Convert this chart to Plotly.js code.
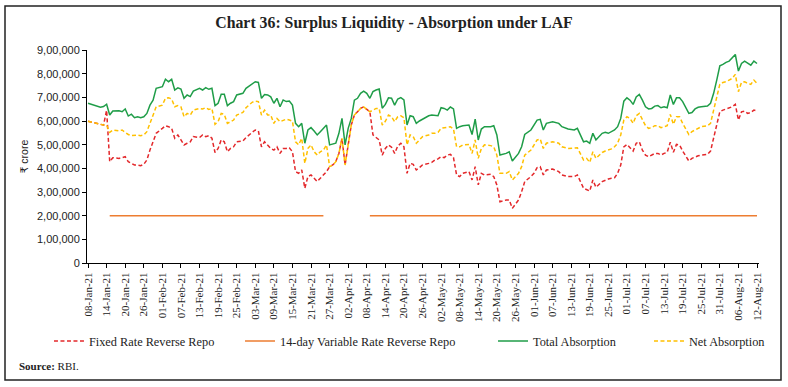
<!DOCTYPE html>
<html>
<head>
<meta charset="utf-8">
<script src="https://cdn.plot.ly/plotly-3.0.1.min.js"></script>
<style>
  html, body { margin: 0; padding: 0; background: #fff; }
  #chart { width: 788px; height: 387px; }
</style>
</head>
<body>
<div id="chart"></div>
<script>
// Dates of observations
const dates = [
  '2021-01-08','2021-01-10','2021-01-12','2021-01-13','2021-01-14','2021-01-15','2021-01-16','2021-01-18','2021-01-19','2021-01-20',
  '2021-01-21','2021-01-22','2021-01-23','2021-01-24','2021-01-25','2021-01-26','2021-01-27','2021-01-28','2021-01-29','2021-01-30',
  '2021-02-01','2021-02-02','2021-02-03','2021-02-04','2021-02-05','2021-02-06','2021-02-07','2021-02-08','2021-02-09','2021-02-10',
  '2021-02-11','2021-02-13','2021-02-14','2021-02-15','2021-02-16','2021-02-17','2021-02-18','2021-02-19','2021-02-20','2021-02-21',
  '2021-02-22','2021-02-23','2021-02-24','2021-02-25','2021-02-27','2021-02-28',
  '2021-03-02','2021-03-03','2021-03-04','2021-03-05','2021-03-06','2021-03-07','2021-03-08','2021-03-09','2021-03-10','2021-03-11',
  '2021-03-12','2021-03-13','2021-03-14','2021-03-15','2021-03-16','2021-03-17','2021-03-18','2021-03-19','2021-03-20','2021-03-21',
  '2021-03-22','2021-03-23','2021-03-24','2021-03-25','2021-03-26','2021-03-27','2021-03-28','2021-03-29','2021-03-30','2021-03-31',
  '2021-04-01','2021-04-02','2021-04-03','2021-04-04','2021-04-05','2021-04-06','2021-04-07','2021-04-08','2021-04-09','2021-04-10',
  '2021-04-11','2021-04-12','2021-04-13','2021-04-14','2021-04-15','2021-04-16','2021-04-17','2021-04-18','2021-04-19','2021-04-20',
  '2021-04-21','2021-04-22','2021-04-23','2021-04-24','2021-04-25','2021-04-26','2021-04-28','2021-04-29','2021-04-30',
  '2021-05-01','2021-05-02','2021-05-03','2021-05-04','2021-05-05','2021-05-06','2021-05-07','2021-05-08','2021-05-09','2021-05-11',
  '2021-05-12','2021-05-13','2021-05-14','2021-05-15','2021-05-16','2021-05-18','2021-05-19','2021-05-20','2021-05-21','2021-05-23',
  '2021-05-24','2021-05-25','2021-05-27','2021-05-28','2021-05-29','2021-05-31',
  '2021-06-01','2021-06-02','2021-06-03','2021-06-04','2021-06-05','2021-06-07','2021-06-09','2021-06-10','2021-06-12','2021-06-14',
  '2021-06-15','2021-06-17','2021-06-18','2021-06-19','2021-06-20','2021-06-21','2021-06-23','2021-06-24','2021-06-25','2021-06-26',
  '2021-06-27','2021-06-28','2021-06-29','2021-06-30',
  '2021-07-01','2021-07-02','2021-07-03','2021-07-04','2021-07-05','2021-07-06','2021-07-07','2021-07-08','2021-07-09','2021-07-10',
  '2021-07-11','2021-07-12','2021-07-13','2021-07-14','2021-07-15','2021-07-16','2021-07-17','2021-07-18','2021-07-19','2021-07-21',
  '2021-07-22','2021-07-23','2021-07-24','2021-07-25','2021-07-27','2021-07-28','2021-07-29','2021-07-30','2021-07-31',
  '2021-08-01','2021-08-02','2021-08-03','2021-08-04','2021-08-05','2021-08-06','2021-08-07','2021-08-08','2021-08-09','2021-08-10',
  '2021-08-11','2021-08-12'
];

// Total Absorption (₹ crore)
const totalAbsorption = [
  675000,668000,658000,661000,671000,625000,642000,643000,639000,651000,
  621000,629000,614000,618000,614000,618000,632000,667000,688000,738000,
  745000,777000,766000,776000,731000,740000,735000,696000,710000,703000,
  726000,738000,731000,741000,734000,738000,665000,675000,713000,713000,
  665000,675000,682000,710000,717000,738000,
  759000,766000,763000,696000,712000,710000,702000,675000,696000,660000,
  689000,682000,684000,667000,590000,576000,590000,506000,562000,572000,
  558000,541000,555000,569000,583000,499000,501000,506000,548000,611000,
  499000,569000,611000,688000,696000,717000,726000,717000,696000,724000,
  731000,735000,654000,670000,698000,696000,667000,693000,699000,689000,
  583000,622000,618000,590000,600000,608000,622000,625000,625000,
  622000,656000,653000,646000,659000,651000,569000,576000,580000,583000,
  543000,608000,520000,566000,576000,576000,580000,541000,456000,463000,
  470000,431000,463000,491000,543000,562000,
  586000,604000,607000,562000,590000,597000,590000,576000,566000,562000,
  569000,512000,515000,506000,548000,520000,548000,552000,548000,555000,
  562000,576000,611000,684000,
  698000,688000,670000,702000,712000,688000,660000,651000,653000,663000,
  665000,656000,660000,656000,710000,670000,698000,698000,682000,632000,
  636000,651000,658000,660000,663000,675000,717000,773000,833000,
  839000,848000,853000,867000,881000,811000,843000,853000,843000,836000,
  853000,843000
];

// Net Absorption (₹ crore)
const netAbsorption = [
  599000,594000,586000,583000,583000,552000,562000,558000,562000,552000,
  543000,538000,541000,541000,538000,541000,555000,590000,632000,660000,
  667000,696000,698000,693000,660000,665000,660000,618000,632000,625000,
  646000,653000,651000,656000,649000,653000,586000,597000,632000,628000,
  590000,597000,604000,625000,636000,656000,
  679000,684000,682000,625000,646000,625000,625000,590000,611000,597000,
  604000,608000,604000,599000,512000,499000,527000,421000,484000,499000,
  470000,456000,470000,477000,499000,407000,414000,428000,463000,527000,
  414000,499000,583000,625000,639000,653000,660000,651000,639000,646000,
  653000,653000,583000,599000,625000,618000,597000,618000,622000,614000,
  499000,541000,534000,506000,520000,534000,541000,548000,548000,
  552000,569000,572000,572000,576000,566000,491000,491000,499000,501000,
  463000,520000,442000,484000,499000,496000,491000,456000,379000,379000,
  386000,351000,379000,407000,456000,477000,
  499000,520000,524000,484000,506000,512000,506000,491000,484000,484000,
  487000,435000,442000,425000,470000,442000,467000,473000,477000,482000,
  491000,506000,541000,604000,
  618000,611000,590000,622000,632000,604000,580000,569000,572000,580000,
  580000,572000,576000,580000,628000,586000,618000,618000,590000,543000,
  555000,562000,569000,576000,580000,590000,646000,703000,755000,
  763000,766000,773000,780000,797000,724000,763000,766000,759000,755000,
  773000,759000
];

// Fixed Rate Reverse Repo (₹ crore)
const fixedRateReverseRepo = [
  599000,594000,586000,583000,645000,428000,445000,442000,445000,449000,
  428000,421000,414000,414000,411000,417000,435000,477000,512000,548000,
  569000,580000,576000,569000,527000,541000,520000,499000,506000,512000,
  534000,530000,541000,534000,538000,527000,467000,484000,520000,512000,
  470000,484000,491000,512000,516000,530000,
  552000,562000,558000,491000,512000,499000,484000,477000,491000,463000,
  484000,484000,487000,470000,386000,379000,393000,316000,365000,372000,
  358000,344000,358000,372000,386000,407000,414000,428000,463000,527000,
  414000,499000,583000,625000,639000,653000,660000,651000,639000,541000,
  531000,520000,456000,484000,499000,489000,463000,494000,506000,491000,
  379000,421000,417000,393000,403000,414000,421000,425000,435000,
  440000,449000,445000,456000,459000,445000,372000,365000,379000,386000,
  351000,407000,330000,379000,372000,375000,365000,330000,259000,266000,
  266000,231000,266000,301000,344000,365000,
  379000,403000,407000,372000,393000,397000,386000,372000,365000,365000,
  372000,316000,309000,304000,351000,320000,344000,351000,355000,358000,
  360000,379000,414000,491000,
  501000,487000,473000,506000,512000,477000,456000,449000,456000,463000,
  463000,456000,463000,468000,510000,468000,501000,499000,473000,431000,
  442000,449000,453000,456000,459000,473000,527000,590000,639000,
  646000,651000,656000,660000,670000,604000,639000,642000,632000,636000,
  646000,642000
];

// 14-day Variable Rate Reverse Repo (₹ crore)
const vrrrDates = ['2021-01-15','2021-03-25','2021-03-26','2021-04-09','2021-08-12'];
const vrrrValues = [200000, 200000, null, 200000, 200000];

// Axis ticks
const yTickVals = [0,100000,200000,300000,400000,500000,600000,700000,800000,900000];
const yTickText = ['0','1,00,000','2,00,000','3,00,000','4,00,000','5,00,000','6,00,000','7,00,000','8,00,000','9,00,000'];

const seriesNames = ['Fixed Rate Reverse Repo','14-day Variable Rate Reverse Repo','Total Absorption','Net Absorption'];
const colors = ['#e3282b','#ed7d31','#1f9d48','#ffc000'];

const SERIF = '"Liberation Serif", "DejaVu Serif", serif';
const SANS = '"Liberation Sans", "DejaVu Sans", sans-serif';

const traces = [
  { x: dates, y: fixedRateReverseRepo, name: seriesNames[0], type: 'scatter', mode: 'lines',
    line: { color: colors[0], width: 1.5, dash: '4px,2.5px' }, legend: 'legend' },
  { x: vrrrDates, y: vrrrValues, name: seriesNames[1], type: 'scatter', mode: 'lines', connectgaps: false,
    line: { color: colors[1], width: 1.5 }, legend: 'legend2' },
  { x: dates, y: totalAbsorption, name: seriesNames[2], type: 'scatter', mode: 'lines',
    line: { color: colors[2], width: 1.5 }, legend: 'legend3' },
  { x: dates, y: netAbsorption, name: seriesNames[3], type: 'scatter', mode: 'lines',
    line: { color: colors[3], width: 1.5, dash: '4px,2.5px' }, legend: 'legend4' }
];

const legendBase = {
  orientation: 'h', xanchor: 'left', yanchor: 'middle', y: -0.366,
  bgcolor: 'rgba(0,0,0,0)', borderwidth: 0,
  font: { family: SERIF, size: 12.3, color: '#222' }
};

const layout = {
  width: 788, height: 387,
  margin: { l: 87, r: 29, t: 50, b: 124 },
  paper_bgcolor: '#fff', plot_bgcolor: '#fff',
  title: {
    text: 'Chart 36: Surplus Liquidity - Absorption under LAF',
    font: { family: SERIF, size: 15.8, color: '#222', weight: 'bold' },
    x: 0.5, xanchor: 'center', xref: 'container',
    y: 0.943, yanchor: 'middle', yref: 'container'
  },
  xaxis: {
    type: 'date',
    range: ['2021-01-07 16:00', '2021-08-12 15:30'],
    tick0: '2021-01-08', dtick: 6 * 86400000,
    tickformat: '%d-%b-%y', tickangle: -90,
    ticks: 'outside', ticklen: 4, tickcolor: '#000', tickwidth: 1,
    showline: true, linecolor: '#000', linewidth: 1,
    showgrid: false, zeroline: false,
    tickfont: { family: SERIF, size: 11, color: '#222' }
  },
  yaxis: {
    range: [0, 900000],
    tickvals: yTickVals, ticktext: yTickText,
    ticks: 'outside', ticklen: 4, tickcolor: '#000', tickwidth: 1,
    showline: true, linecolor: '#000', linewidth: 1,
    showgrid: false, zeroline: false,
    tickfont: { family: SANS, size: 11, color: '#222' },
    title: { text: '₹ crore', font: { family: SANS, size: 10.5, color: '#222' }, standoff: 6 }
  },
  showlegend: true,
  legend: Object.assign({}, legendBase, { x: -0.0566 }),
  legend2: Object.assign({}, legendBase, { x: 0.2277 }),
  legend3: Object.assign({}, legendBase, { x: 0.6042 }),
  legend4: Object.assign({}, legendBase, { x: 0.8363 }),
  annotations: [
    {
      text: '<b>Source:</b> RBI.', xref: 'paper', yref: 'paper',
      x: (17 - 87) / 672, y: (263 - 366) / 213, xanchor: 'left', yanchor: 'middle',
      showarrow: false, font: { family: SERIF, size: 11, color: '#222' }
    }
  ],
  shapes: [
    {
      type: 'rect', xref: 'paper', yref: 'paper',
      x0: (5 - 87) / 672, x1: (781 - 87) / 672,
      y0: (263 - 380) / 213, y1: (263 - 6) / 213,
      line: { color: '#222', width: 1.5 }, fillcolor: 'rgba(0,0,0,0)', layer: 'below'
    }
  ],
  hovermode: false
};

Plotly.newPlot('chart', traces, layout, { staticPlot: true, displayModeBar: false });
</script>
</body>
</html>
